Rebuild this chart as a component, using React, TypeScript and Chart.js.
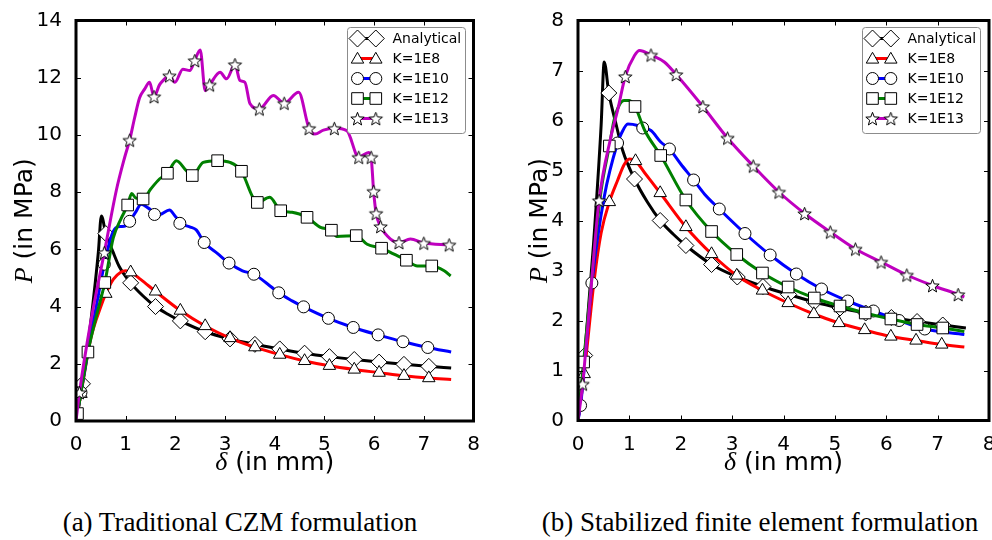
import { useEffect, useRef } from 'react';
import { Chart, registerables } from 'chart.js';

Chart.register(...registerables);

// ---------------- data ----------------
const LABELS = ['Analytical', 'K=1E8', 'K=1E10', 'K=1E12', 'K=1E13'];
const CAPTIONS = ['(a) Traditional CZM formulation', '(b) Stabilized finite element formulation'];
const X_TICKS_MAX = 8;
const Y_MAX_A = 14;
const Y_MAX_B = 8;

// Analytical (same in both panels)
const ANA_X = [0, 0.13, 0.3, 0.45, 0.51, 0.6, 0.74, 0.87, 1.1, 1.35, 1.6, 1.85, 2.1, 2.6, 3.1, 3.6, 4.1, 4.6, 5.1, 5.6, 6.1, 6.6, 7.1, 7.55];
const ANA_Y = [0, 1.3, 3.5, 5.9, 7.17, 6.55, 5.93, 5.4, 4.83, 4.37, 4.0, 3.73, 3.5, 3.12, 2.87, 2.68, 2.52, 2.37, 2.25, 2.15, 2.06, 1.98, 1.91, 1.85];
const ANA_MX = [0.13, 0.6, 1.1, 1.6, 2.1, 2.6, 3.1, 3.6, 4.1, 4.6, 5.1, 5.6, 6.1, 6.6, 7.1];
const ANA_MY = [1.3, 6.55, 4.83, 4.0, 3.5, 3.12, 2.87, 2.68, 2.52, 2.37, 2.25, 2.15, 2.06, 1.98, 1.91];

// Panel (a) K=1E8
const A_K8_X = [0, 0.1, 0.3, 0.5, 0.6, 0.75, 0.9, 1.0, 1.1, 1.3, 1.6, 2.1, 2.6, 3.1, 3.6, 4.1, 4.6, 5.1, 5.6, 6.1, 6.6, 7.1, 7.55];
const A_K8_Y = [0, 0.95, 2.9, 4.0, 4.45, 4.95, 5.2, 5.25, 5.2, 4.95, 4.53, 3.86, 3.32, 2.9, 2.58, 2.32, 2.1, 1.93, 1.8, 1.69, 1.58, 1.5, 1.45];
const A_K8_MX = [0.1, 0.6, 1.1, 1.6, 2.1, 2.6, 3.1, 3.6, 4.1, 4.6, 5.1, 5.6, 6.1, 6.6, 7.1];
const A_K8_MY = [0.95, 4.45, 5.2, 4.53, 3.86, 3.32, 2.9, 2.58, 2.32, 2.1, 1.93, 1.8, 1.69, 1.58, 1.5];

// Panel (a) K=1E10
const A_K10_X = [0, 0.1, 0.3, 0.45, 0.57, 0.7, 0.8, 0.9, 1.0, 1.08, 1.2, 1.31, 1.45, 1.6, 1.68, 1.88, 2.0, 2.15, 2.3, 2.42, 2.58, 2.85, 3.08, 3.35, 3.58, 3.85, 4.08, 4.35, 4.58, 5.08, 5.58, 6.08, 6.58, 7.08, 7.55];
const A_K10_Y = [0, 1.0, 3.0, 4.4, 5.48, 6.4, 6.75, 6.8, 6.82, 6.98, 7.3, 7.58, 7.45, 7.25, 7.22, 7.38, 7.15, 6.88, 6.78, 6.68, 6.24, 5.85, 5.52, 5.25, 5.13, 4.8, 4.48, 4.2, 3.99, 3.59, 3.27, 3.01, 2.77, 2.57, 2.41];
const A_K10_MX = [0.1, 0.57, 1.08, 1.58, 2.09, 2.58, 3.08, 3.58, 4.08, 4.58, 5.08, 5.58, 6.08, 6.58, 7.08];
const A_K10_MY = [1.0, 5.48, 6.98, 7.22, 6.91, 6.24, 5.52, 5.13, 4.48, 3.99, 3.59, 3.27, 3.01, 2.77, 2.57];

// Panel (a) K=1E12
const A_K12_X = [0, 0.03, 0.1, 0.24, 0.4, 0.58, 0.75, 0.9, 1.04, 1.12, 1.2, 1.35, 1.5, 1.68, 1.84, 2.02, 2.22, 2.34, 2.56, 2.85, 3.1, 3.33, 3.56, 3.65, 3.9, 4.12, 4.35, 4.65, 4.92, 5.14, 5.25, 5.64, 5.86, 6.15, 6.4, 6.65, 6.87, 7.16, 7.41, 7.54];
const A_K12_Y = [0, 0.26, 1.0, 2.41, 3.6, 4.84, 6.4, 7.05, 7.55, 7.95, 7.8, 7.76, 8.1, 8.46, 8.66, 9.1, 8.75, 8.58, 9.04, 9.1, 9.04, 8.73, 7.82, 7.64, 7.82, 7.35, 7.3, 7.12, 6.77, 6.67, 6.45, 6.48, 6.18, 6.04, 5.83, 5.62, 5.42, 5.42, 5.25, 5.07];
const A_K12_MX = [0.03, 0.24, 0.58, 1.04, 1.35, 1.84, 2.34, 2.85, 3.33, 3.65, 4.12, 4.65, 5.14, 5.64, 6.15, 6.65, 7.16];
const A_K12_MY = [0.26, 2.41, 4.84, 7.55, 7.76, 8.66, 8.58, 9.1, 8.73, 7.64, 7.35, 7.12, 6.67, 6.48, 6.04, 5.62, 5.42];

// Panel (a) K=1E13
const A_K13_X = [0, 0.07, 0.3, 0.57, 0.81, 0.98, 1.08, 1.18, 1.28, 1.38, 1.48, 1.57, 1.68, 1.75, 1.88, 1.99, 2.15, 2.29, 2.39, 2.5, 2.6, 2.69, 2.9, 3.03, 3.2, 3.3, 3.4, 3.5, 3.69, 3.97, 4.19, 4.48, 4.69, 4.81, 4.98, 5.2, 5.45, 5.69, 5.89, 5.94, 5.99, 6.04, 6.13, 6.33, 6.5, 6.73, 7.0, 7.51];
const A_K13_Y = [0, 1.0, 3.5, 5.89, 8.05, 9.22, 9.82, 10.6, 11.3, 11.6, 11.84, 11.34, 11.75, 11.9, 12.07, 11.84, 12.3, 12.25, 12.6, 12.97, 11.55, 11.75, 12.19, 11.96, 12.46, 11.9, 11.84, 11.1, 10.91, 11.38, 11.11, 11.49, 10.23, 10.03, 10.17, 10.23, 10.15, 9.22, 9.39, 9.22, 8.03, 7.26, 6.8, 6.36, 6.24, 6.36, 6.22, 6.16];
const A_K13_MX = [0.07, 0.57, 1.08, 1.57, 1.88, 2.39, 2.69, 3.2, 3.69, 4.19, 4.69, 5.2, 5.69, 5.94, 5.99, 6.04, 6.13, 6.5, 7.0, 7.51];
const A_K13_MY = [1.0, 5.89, 9.82, 11.34, 12.07, 12.6, 11.75, 12.46, 10.91, 11.11, 10.23, 10.23, 9.22, 9.22, 8.03, 7.26, 6.8, 6.24, 6.22, 6.16];

// Panel (b) K=1E8
const B_K8_X = [0, 0.12, 0.32, 0.45, 0.61, 0.77, 0.9, 1.0, 1.12, 1.3, 1.6, 2.1, 2.6, 3.09, 3.59, 4.09, 4.59, 5.08, 5.58, 6.09, 6.58, 7.08, 7.52];
const B_K8_Y = [0, 0.93, 2.85, 3.75, 4.37, 4.8, 5.12, 5.23, 5.19, 4.95, 4.55, 3.87, 3.33, 2.9, 2.6, 2.35, 2.13, 1.95, 1.81, 1.68, 1.6, 1.52, 1.47];
const B_K8_MX = [0.12, 0.61, 1.12, 1.6, 2.1, 2.6, 3.09, 3.59, 4.09, 4.59, 5.08, 5.58, 6.09, 6.58, 7.08];
const B_K8_MY = [0.93, 4.37, 5.19, 4.55, 3.87, 3.33, 2.9, 2.6, 2.35, 2.13, 1.95, 1.81, 1.68, 1.6, 1.52];

// Panel (b) K=1E10
const B_K10_X = [0, 0.05, 0.27, 0.51, 0.77, 0.84, 0.97, 1.16, 1.26, 1.42, 1.61, 1.78, 2.0, 2.25, 2.46, 2.75, 3.25, 3.74, 4.25, 4.74, 5.25, 5.75, 6.25, 6.75, 7.52];
const B_K10_Y = [0, 0.3, 2.75, 4.47, 5.55, 5.73, 5.93, 5.9, 5.85, 5.8, 5.57, 5.43, 5.13, 4.81, 4.53, 4.23, 3.74, 3.31, 2.93, 2.63, 2.39, 2.19, 2.0, 1.83, 1.72];
const B_K10_MX = [0.05, 0.27, 0.77, 1.26, 1.78, 2.25, 2.75, 3.25, 3.74, 4.25, 4.74, 5.25, 5.75, 6.25, 6.75];
const B_K10_MY = [0.3, 2.75, 5.55, 5.85, 5.43, 4.81, 4.23, 3.74, 3.31, 2.93, 2.63, 2.39, 2.19, 2.0, 1.83];

// Panel (b) K=1E12
const B_K12_X = [0, 0.11, 0.3, 0.45, 0.61, 0.7, 0.8, 0.9, 1.0, 1.11, 1.3, 1.61, 2.1, 2.6, 3.09, 3.59, 4.09, 4.6, 5.1, 5.59, 6.09, 6.6, 7.1, 7.52];
const B_K12_Y = [0, 1.17, 3.2, 4.6, 5.49, 6.0, 6.3, 6.4, 6.4, 6.28, 5.8, 5.3, 4.41, 3.78, 3.32, 2.95, 2.67, 2.45, 2.29, 2.15, 2.03, 1.92, 1.85, 1.78];
const B_K12_MX = [0.11, 0.61, 1.11, 1.61, 2.1, 2.6, 3.09, 3.59, 4.09, 4.6, 5.1, 5.59, 6.09, 6.6, 7.1];
const B_K12_MY = [1.17, 5.49, 6.28, 5.3, 4.41, 3.78, 3.32, 2.95, 2.67, 2.45, 2.29, 2.15, 2.03, 1.92, 1.85];

// Panel (b) K=1E13
const B_K13_X = [0, 0.09, 0.25, 0.41, 0.64, 0.77, 0.92, 1.1, 1.2, 1.42, 1.68, 1.91, 2.43, 2.91, 3.41, 3.91, 4.41, 4.91, 5.4, 5.9, 6.4, 6.9, 7.4, 7.52];
const B_K13_Y = [0, 0.73, 2.6, 4.4, 5.67, 6.2, 6.88, 7.3, 7.4, 7.31, 7.17, 6.92, 6.28, 5.65, 5.09, 4.57, 4.14, 3.77, 3.43, 3.17, 2.91, 2.7, 2.52, 2.47];
const B_K13_MX = [0.09, 0.41, 0.92, 1.42, 1.91, 2.43, 2.91, 3.41, 3.91, 4.41, 4.91, 5.4, 5.9, 6.4, 6.9, 7.4];
const B_K13_MY = [0.73, 4.4, 6.88, 7.31, 6.92, 6.28, 5.65, 5.09, 4.57, 4.14, 3.77, 3.43, 3.17, 2.91, 2.7, 2.52];

// ---------------- styles ----------------
const COLORS = ['#000000', '#ff0000', '#0000ff', '#008000', '#bf00bf'];
const MARKERS = ['diamond', 'triangle', 'circle', 'square', 'star'];

type Series = { lx: number[]; ly: number[]; mx: number[]; my: number[] };

const PANEL_A: Series[] = [
  { lx: ANA_X, ly: ANA_Y, mx: ANA_MX, my: ANA_MY },
  { lx: A_K8_X, ly: A_K8_Y, mx: A_K8_MX, my: A_K8_MY },
  { lx: A_K10_X, ly: A_K10_Y, mx: A_K10_MX, my: A_K10_MY },
  { lx: A_K12_X, ly: A_K12_Y, mx: A_K12_MX, my: A_K12_MY },
  { lx: A_K13_X, ly: A_K13_Y, mx: A_K13_MX, my: A_K13_MY },
];
const PANEL_B: Series[] = [
  { lx: ANA_X, ly: ANA_Y, mx: ANA_MX, my: ANA_MY },
  { lx: B_K8_X, ly: B_K8_Y, mx: B_K8_MX, my: B_K8_MY },
  { lx: B_K10_X, ly: B_K10_Y, mx: B_K10_MX, my: B_K10_MY },
  { lx: B_K12_X, ly: B_K12_Y, mx: B_K12_MX, my: B_K12_MY },
  { lx: B_K13_X, ly: B_K13_Y, mx: B_K13_MX, my: B_K13_MY },
];

function makeStar(r: number): HTMLCanvasElement {
  const size = Math.ceil(r * 2 + 3);
  const c = document.createElement('canvas');
  c.width = size;
  c.height = size;
  const g = c.getContext('2d')!;
  g.translate(size / 2, size / 2 + 0.8);
  g.beginPath();
  for (let k = 0; k < 10; k++) {
    const rr = k % 2 === 0 ? r : r * 0.42;
    const ang = -Math.PI / 2 + (k * Math.PI) / 5;
    if (k === 0) g.moveTo(rr * Math.cos(ang), rr * Math.sin(ang));
    else g.lineTo(rr * Math.cos(ang), rr * Math.sin(ang));
  }
  g.closePath();
  g.fillStyle = '#ffffff';
  g.fill();
  g.strokeStyle = '#000000';
  g.lineWidth = 1;
  g.stroke();
  return c;
}

function drawMarker(ctx: CanvasRenderingContext2D, kind: string, x: number, y: number, star: HTMLCanvasElement) {
  ctx.save();
  ctx.fillStyle = '#ffffff';
  ctx.strokeStyle = '#000000';
  ctx.lineWidth = 1;
  ctx.beginPath();
  if (kind === 'diamond') {
    const r = 8.5;
    ctx.moveTo(x - r, y); ctx.lineTo(x, y - r); ctx.lineTo(x + r, y); ctx.lineTo(x, y + r); ctx.closePath();
  } else if (kind === 'triangle') {
    const r = 7.2;
    for (let k = 0; k < 3; k++) {
      const a = -Math.PI / 2 + (k * 2 * Math.PI) / 3;
      const px = x + r * Math.cos(a), py = y + 1 + r * Math.sin(a);
      if (k === 0) ctx.moveTo(px, py); else ctx.lineTo(px, py);
    }
    ctx.closePath();
  } else if (kind === 'circle') {
    ctx.arc(x, y, 6, 0, Math.PI * 2);
  } else if (kind === 'square') {
    ctx.rect(x - 5.8, y - 5.8, 11.6, 11.6);
  } else {
    ctx.drawImage(star, x - star.width / 2, y - star.height / 2);
    ctx.restore();
    return;
  }
  ctx.fill();
  ctx.stroke();
  ctx.restore();
}

const framePlugin = {
  id: 'frame',
  afterDraw(chart: any, _args: any, opts: any) {
    const { ctx, chartArea: a, scales } = chart;
    ctx.save();
    // inner ticks
    ctx.strokeStyle = '#000';
    ctx.lineWidth = 1;
    ctx.beginPath();
    for (const t of scales.x.ticks) {
      const px = Math.round(scales.x.getPixelForValue(t.value)) + 0.5;
      ctx.moveTo(px, a.bottom); ctx.lineTo(px, a.bottom - 5);
      ctx.moveTo(px, a.top); ctx.lineTo(px, a.top + 5);
    }
    for (const t of scales.y.ticks) {
      const py = Math.round(scales.y.getPixelForValue(t.value)) + 0.5;
      ctx.moveTo(a.left, py); ctx.lineTo(a.left + 5, py);
      ctx.moveTo(a.right, py); ctx.lineTo(a.right - 5, py);
    }
    ctx.stroke();
    // frame
    ctx.lineWidth = 3;
    ctx.strokeRect(a.left, a.top, a.right - a.left, a.bottom - a.top);

    // legend
    const bw = 118, bh = 106;
    const bx = a.right - opts.legendRight - bw;
    const by = a.top + 6.5;
    ctx.beginPath();
    const rr = 3;
    if ((ctx as any).roundRect) (ctx as any).roundRect(bx + 0.5, by + 0.5, bw, bh, rr);
    else ctx.rect(bx + 0.5, by + 0.5, bw, bh);
    ctx.fillStyle = '#ffffff';
    ctx.fill();
    ctx.strokeStyle = '#8c8c8c';
    ctx.lineWidth = 1;
    ctx.stroke();
    LABELS.forEach((lab, i) => {
      const ry = by + 11.5 + i * 20;
      const m1 = bx + 10.5, m2 = bx + 28.8;
      ctx.beginPath();
      ctx.moveTo(m1, ry); ctx.lineTo(m2, ry);
      ctx.strokeStyle = COLORS[i];
      ctx.lineWidth = 3;
      ctx.stroke();
      drawMarker(ctx, MARKERS[i], m1, ry, opts.star);
      drawMarker(ctx, MARKERS[i], m2, ry, opts.star);
      ctx.fillStyle = '#000';
      ctx.font = '14px "DejaVu Sans"';
      ctx.textAlign = 'left';
      ctx.textBaseline = 'middle';
      ctx.fillText(lab, bx + 45.5, ry + 0.5);
    });

    // x title: δ (in mm)
    const cx = (a.left + a.right) / 2;
    const italic = 'italic 26px "Liberation Serif"';
    const sans = '25px "DejaVu Sans"';
    ctx.fillStyle = '#000';
    ctx.textBaseline = 'alphabetic';
    ctx.textAlign = 'left';
    ctx.font = italic;
    const wd = ctx.measureText('δ').width;
    ctx.font = sans;
    const wr = ctx.measureText(' (in mm)').width;
    let sx = cx - (wd + wr) / 2;
    ctx.font = italic;
    ctx.fillText('δ', sx, opts.xTitleY);
    ctx.font = sans;
    ctx.fillText(' (in mm)', sx + wd, opts.xTitleY);

    // y title: P (in MPa)
    const cy = (a.top + a.bottom) / 2;
    ctx.save();
    ctx.translate(opts.yTitleX, cy);
    ctx.rotate(-Math.PI / 2);
    ctx.font = italic;
    const wp = ctx.measureText('P').width;
    ctx.font = sans;
    const wr2 = ctx.measureText(' (in MPa)').width;
    sx = -(wp + wr2) / 2;
    ctx.font = italic;
    ctx.fillText('P', sx, 0);
    ctx.font = sans;
    ctx.fillText(' (in MPa)', sx + wp, 0);
    ctx.restore();

    ctx.restore();
  },
};

type PanelOpts = {
  series: Series[];
  yMax: number;
  yStep: number;
  padLeftWidth: number;
  padRight: number;
  xHeight: number;
  legendRight: number;
  yTitleX: number;
};

function buildConfig(p: PanelOpts, star: HTMLCanvasElement): any {
  const datasets: any[] = [];
  p.series.forEach((s, i) => {
    datasets.push({
      label: LABELS[i],
      data: s.lx.map((x, k) => ({ x, y: s.ly[k] })),
      showLine: true,
      borderColor: COLORS[i],
      backgroundColor: COLORS[i],
      borderWidth: 3,
      pointRadius: 0,
      pointHoverRadius: 0,
      cubicInterpolationMode: 'monotone',
      fill: false,
      order: 100 - 2 * i,
    });
    const style = MARKERS[i];
    const ps = style === 'diamond' ? 'rectRot' : style === 'square' ? 'rect' : style === 'star' ? star : style;
    const radius = style === 'diamond' ? 8 : style === 'triangle' ? 7.2 : style === 'circle' ? 6 : style === 'square' ? 8.2 : 7;
    datasets.push({
      label: LABELS[i] + ' markers',
      data: s.mx.map((x, k) => ({ x, y: s.my[k] })),
      showLine: false,
      pointStyle: ps,
      pointRadius: radius,
      pointHoverRadius: radius,
      pointBackgroundColor: '#ffffff',
      pointBorderColor: '#000000',
      pointBorderWidth: 1,
      order: 99 - 2 * i,
    });
  });
  return {
    type: 'scatter',
    data: { datasets },
    options: {
      animation: false,
      responsive: false,
      events: [],
      layout: { padding: { left: 0, top: 20.5, right: p.padRight, bottom: 0 } },
      plugins: {
        legend: { display: false },
        tooltip: { enabled: false },
        frame: { legendRight: p.legendRight, yTitleX: p.yTitleX, xTitleY: 470, star },
      },
      scales: {
        x: {
          type: 'linear',
          min: 0,
          max: X_TICKS_MAX,
          ticks: { stepSize: 1, font: { family: 'DejaVu Sans', size: 20 }, color: '#000', padding: 4, maxRotation: 0, autoSkip: false },
          grid: { display: false },
          border: { display: false },
          afterFit: (sc: any) => { sc.height = p.xHeight; },
        },
        y: {
          type: 'linear',
          min: 0,
          max: p.yMax,
          ticks: { stepSize: p.yStep, font: { family: 'DejaVu Sans', size: 20 }, color: '#000', padding: 6, autoSkip: false },
          grid: { display: false },
          border: { display: false },
          afterFit: (sc: any) => { sc.width = p.padLeftWidth; },
        },
      },
    },
    plugins: [framePlugin],
  };
}

const PANEL_A_OPTS: PanelOpts = { series: PANEL_A, yMax: Y_MAX_A, yStep: 2, padLeftWidth: 76, padRight: 22.5, xHeight: 69, legendRight: 8.5, yTitleX: 31.7 };
const PANEL_B_OPTS: PanelOpts = { series: PANEL_B, yMax: Y_MAX_B, yStep: 1, padLeftWidth: 82, padRight: 17, xHeight: 69.5, legendRight: 9, yTitleX: 50.7 };

function Panel({ opts, left, width }: { opts: PanelOpts; left: number; width: number }) {
  const ref = useRef<HTMLCanvasElement>(null);
  useEffect(() => {
    const star = makeStar(7);
    const chart = new Chart(ref.current!, buildConfig(opts, star));
    return () => chart.destroy();
  }, [opts]);
  return <canvas ref={ref} width={width} height={490} style={{ position: 'absolute', left, top: 0, width, height: 490 }} />;
}

export default function App() {
  const capStyle: any = {
    position: 'absolute',
    top: 507,
    height: 30,
    lineHeight: '30px',
    fontFamily: '"Liberation Serif", serif',
    fontSize: 27,
    color: '#000',
    textAlign: 'center',
    whiteSpace: 'nowrap',
  };
  return (
    <div style={{ position: 'fixed', left: 0, top: 0, width: 992, height: 540, background: '#fff', overflow: 'hidden' }}>
      <Panel opts={PANEL_A_OPTS} left={0} width={496} />
      <Panel opts={PANEL_B_OPTS} left={496} width={510} />
      <div style={{ ...capStyle, left: 0, width: 480 }}>{CAPTIONS[0]}</div>
      <div style={{ ...capStyle, left: 520, width: 480 }}>{CAPTIONS[1]}</div>
    </div>
  );
}
